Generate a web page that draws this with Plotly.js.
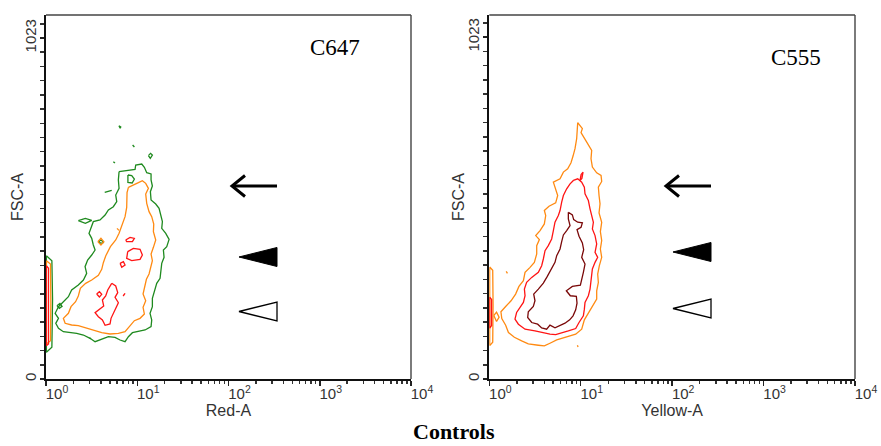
<!DOCTYPE html>
<html><head><meta charset="utf-8">
<script src="https://cdn.plot.ly/plotly-3.0.1.min.js"></script>
<style>html,body{margin:0;padding:0;background:#fff}#chart{width:881px;height:446px}</style>
</head><body><div id="chart"></div>
<script>
// ---------- C647 panel (Red-A vs FSC-A): contour outlines ----------
const c647GreenX = [6.32,7.66,9.46,9.62,11.2,11.97,12.70,14.17,14.17,14.65,13.93,14.17,15.94,17.34,18.23,18.86,18.55,20.52,22.33,21.05,19.34,19.67,18.55,18.23,17.78,16.35,15.67,14.65,14.65,13.81,14.41,14.17,12.18,10.29,8.85,8.0,7.35,6.48,5.71,4.83,4.08,3.45,3.04,2.57,2.17,1.83,1.55,1.37,1.28,1.37,1.26,1.37,1.55,1.76,1.91,2.26,2.57,2.79,2.68,2.86,3.17,3.45,3.30,3.17,2.96,3.17,3.30,3.91,4.44,4.83,5.47,5.96,5.81,6.32,6.21,6.32];
const c647GreenY = [622,625,629,642,645,635,619,615,597,579,562,537,525,512,492,472,452,437,419,397,387,365,347,322,302,287,267,242,217,197,177,157,147,142,139,127,112,117,125,127,119,112,122,132,137,139,142,152,167,182,197,217,232,247,267,282,297,317,337,357,372,387,402,422,437,457,472,477,492,507,517,532,552,572,597,622];
const c647OrangeX = [8.0,9.07,10.29,11.38,12.38,13.25,12.38,12.70,13.47,14.41,15.16,15.03,15.94,15.03,14.17,14.65,14.17,13.47,12.60,11.97,11.58,12.38,11.58,11.97,10.73,9.30,8.34,7.35,6.21,5.03,4.08,3.45,2.79,2.26,1.91,1.62,1.55,1.76,1.88,2.11,2.26,2.38,2.72,3.17,3.75,4.08,4.25,4.51,5.08,5.81,6.32,6.76,7.35,7.66,7.66,7.73,8.0];
const c647OrangeY = [575,581,589,595,587,572,555,527,502,487,465,442,417,395,375,355,335,315,299,277,255,235,215,195,182,175,159,142,137,135,139,145,152,160,162,167,182,197,217,232,249,272,287,297,311,329,349,369,397,417,437,459,487,515,539,559,575];
const c647RedAX = [7.86,9.07,10.73,11.38,10.73,8.70,7.66,7.86];
const c647RedAY = [382,392,389,372,359,355,362,382];
const c647RedBX = [7.47,8.34,9.30,8.85,7.66,7.47];
const c647RedBY = [417,425,422,412,412,417];
const c647RedCX = [6.48,7.05,7.35,6.76,6.48];
const c647RedCY = [347,352,342,335,347];
const c647RedDX = [5.25,5.81,6.11,5.71,6.21,5.81,5.47,5.16,5.03,4.44,4.15,3.75,3.45,3.81,4.29,4.15,4.51,4.75,5.25];
const c647RedDY = [287,279,259,245,229,212,197,182,165,161,177,187,199,209,219,237,249,267,287];
const c647RedEX = [3.59,3.85,4.08,3.85,3.59];
const c647RedEY = [255,262,254,246,255];
const c647RedFX = [7.0,7.35,7.2,7.0];
const c647RedFY = [249,257,252,249];
// events piled on the left edge (Red-A = 10^0)
const c647EdgeRedX = [1.008,1.065,1.065,1.008,1.008];
const c647EdgeRedY = [340,332,105,100,340];
const c647EdgeOrangeX = [1.01,1.12,1.13,1.12,1.01,1.01];
const c647EdgeOrangeY = [355,345,230,115,105,355];
const c647EdgeGreenX = [1.01,1.16,1.18,1.16,1.01,1.01];
const c647EdgeGreenY = [370,355,240,95,80,370];
// small islands
const c647GreenIslandsX = [[6.3,6.6,6.5,6.3],[8.9,9.3],[13.25,14.0,14.65,13.9,13.25],[5.47,5.7],[7.9,8.7,9.3,8.8,7.9,7.9],[4.4,5.25],[2.26,2.7,3.17,2.7,2.26],[3.75,4.0,4.3,4.0,3.75],[1.32,1.42,1.5,1.4,1.32],[3.0,3.1]];
const c647GreenIslandsY = [[760,756,752,760],[702,696],[670,677,672,662,670],[652,648],[612,610,600,588,590,612],[560,566],[475,482,476,467,475],[412,417,410,407,412],[220,227,218,212,220],[124,120]];
const c647OrangeIslandsX = [[3.7,4.0,4.3,4.0,3.7],[6.0,6.3]];
const c647OrangeIslandsY = [[412,422,412,402,412],[452,446]];

// ---------- C555 panel (Yellow-A vs FSC-A) ----------
const c555OrangeX = [9.27,10.42,10.08,11.14,12.12,13.18,12.96,13.41,14.95,16.68,16.96,15.59,15.86,16.26,15.86,16.96,16.40,16.96,16.40,16.96,15.99,15.33,15.59,14.95,14.95,13.41,12.12,10.96,10.25,8.81,7.64,6.46,5.46,4.61,4.0,3.44,2.67,2.26,1.88,1.62,1.51,1.37,1.34,1.51,1.73,1.94,2.11,2.36,2.46,2.79,3.11,3.30,3.30,3.53,3.22,3.59,4.0,4.14,4.0,4.50,5.32,5.60,5.23,5.02,5.94,6.46,7.20,7.83,8.24,8.66,9.03,9.27];
const c555OrangeY = [767,749,737,717,699,684,659,634,617,609,591,574,549,524,497,469,441,414,389,364,339,314,289,264,239,219,197,177,149,134,129,123,117,107,99,101,105,114,125,139,161,181,201,217,234,254,277,294,319,334,349,374,399,417,429,444,464,489,504,517,527,549,571,589,599,619,629,647,667,689,719,767];
const c555RedX = [8.31,9.27,10.25,10.96,11.14,12.12,12.64,13.18,13.75,13.41,14.34,14.95,14.34,15.33,14.34,13.41,13.18,12.96,12.64,12.12,11.14,10.96,10.69,9.58,8.81,7.32,6.19,5.32,4.61,3.90,3.16,2.46,2.08,1.91,1.99,2.17,2.36,2.46,2.42,2.56,2.91,3.44,3.74,3.90,4.07,4.42,4.81,5.02,5.23,5.69,5.94,6.19,6.46,7.02,7.64,8.31];
const c555RedY = [594,599,589,574,554,534,509,489,469,449,429,404,379,364,349,329,309,289,269,249,229,209,189,169,151,144,139,133,134,139,144,149,164,179,199,214,229,249,269,289,304,319,339,359,384,399,419,444,469,489,504,529,549,569,584,594];
const c555DarkX = [7.32,8.10,8.38,9.27,10.42,10.08,9.11,9.58,10.42,10.77,10.25,11.14,10.69,10.25,9.91,8.10,6.96,7.70,8.96,9.11,8.81,8.24,7.57,6.73,5.94,5.23,4.61,4.24,3.74,3.38,2.91,2.63,2.67,3.03,3.16,3.06,3.44,3.90,4.31,4.81,5.23,5.46,5.94,6.19,6.46,7.02,7.64,7.32,7.32];
const c555DarkY = [499,491,477,469,467,454,447,427,407,387,364,344,319,299,281,277,264,249,247,227,207,189,177,167,159,153,161,149,153,164,169,184,201,217,234,254,269,287,307,329,349,369,389,411,431,444,459,479,499];
const c555EdgeOrangeX = [1.01,1.09,1.10,1.09,1.01,1.01];
const c555EdgeOrangeY = [335,325,220,110,100,335];
const c555EdgeRedX = [1.01,1.06,1.06,1.01,1.01];
const c555EdgeRedY = [245,238,160,152,245];
const c555OrangeIslandsX = [[1.12,1.2,1.28,1.2,1.12],[9.2,9.35],[1.53,1.58]];
const c555OrangeIslandsY = [[190,200,185,172,190],[101,96],[322,316]];
const c555RedIslandsX = [[9.82,10.3,10.6,10.1,9.82]];
const c555RedIslandsY = [[594,600,619,612,594]];

// ---------- axis ticks / labels ----------
const xTickVals = [1,10,100,1000,10000];
const xTickText = ['10<sup>0</sup>','10<sup>1</sup>','10<sup>2</sup>','10<sup>3</sup>','10<sup>4</sup>'];
const yTickVals = [0,1023];
const yTickText = ['0','1023'];
const panelLabels = ['C647','C555'];
const xTitles = ['Red-A','Yellow-A'];
const yTitle = 'FSC-A';
const caption = 'Controls';

const GREEN = '#1f8a1f', ORANGE = '#ff8a12', RED = '#ff1414', DARK = '#7a0808';

const traces = [];
function line(x, y, color, n) {
  traces.push({type:'scatter', mode:'lines', x:x, y:y, xaxis:'x'+(n>1?n:''), yaxis:'y'+(n>1?n:''),
    line:{color:color, width:1.3}, hoverinfo:'skip', showlegend:false});
}
line(c647EdgeGreenX, c647EdgeGreenY, GREEN, 1);
line(c647GreenX, c647GreenY, GREEN, 1);
c647GreenIslandsX.forEach((x,i)=>line(x, c647GreenIslandsY[i], GREEN, 1));
line(c647EdgeOrangeX, c647EdgeOrangeY, ORANGE, 1);
line(c647OrangeX, c647OrangeY, ORANGE, 1);
c647OrangeIslandsX.forEach((x,i)=>line(x, c647OrangeIslandsY[i], ORANGE, 1));
line(c647EdgeRedX, c647EdgeRedY, RED, 1);
[[c647RedAX,c647RedAY],[c647RedBX,c647RedBY],[c647RedCX,c647RedCY],[c647RedDX,c647RedDY],[c647RedEX,c647RedEY],[c647RedFX,c647RedFY]]
  .forEach(p=>line(p[0], p[1], RED, 1));

line(c555EdgeOrangeX, c555EdgeOrangeY, ORANGE, 2);
line(c555OrangeX, c555OrangeY, ORANGE, 2);
c555OrangeIslandsX.forEach((x,i)=>line(x, c555OrangeIslandsY[i], ORANGE, 2));
line(c555EdgeRedX, c555EdgeRedY, RED, 2);
line(c555RedX, c555RedY, RED, 2);
c555RedIslandsX.forEach((x,i)=>line(x, c555RedIslandsY[i], RED, 2));
line(c555DarkX, c555DarkY, DARK, 2);

// minor tick positions of the log axis (2..9 in each decade)
const minorX = [];
for (let d = 1; d < 10000; d *= 10) for (let k = 2; k <= 9; k++) minorX.push(k*d);

const W = 881, H = 446;
const SANS = 'Liberation Sans, Arial, sans-serif';
const SERIF = 'Liberation Serif, Times New Roman, serif';
function xAxis(dom, title) {
  return {domain:dom, type:'log', range:[0,4], tickmode:'array', tickvals:xTickVals, ticktext:xTickText,
    ticks:'outside', ticklen:5, tickwidth:1.5, tickcolor:'#222', ticklabelposition:'outside right', ticklabelshift:-2,
    showline:true, linecolor:'#111', linewidth:2, mirror:false, showgrid:false, zeroline:false,
    tickfont:{family:SANS, size:15, color:'#333'},
    minor:{ticks:'outside', ticklen:2.5, tickwidth:1.5, tickcolor:'#333', tickmode:'array', tickvals:minorX, showgrid:false},
    title:{text:title, font:{family:SANS, size:16, color:'#333'}, standoff:1}, automargin:false, fixedrange:true};
}
function yAxis(dom, top, anchor) {
  return {domain:dom, range:[0, top], tickmode:'array', tickvals:yTickVals, ticktext:yTickText, tickangle:-90,
    ticks:'outside', ticklen:4, tickwidth:1.5, tickcolor:'#222', ticklabelstandoff:-2,
    showline:true, linecolor:'#111', linewidth:2, mirror:false, showgrid:false, zeroline:false,
    tickfont:{family:SANS, size:15, color:'#333'},
    minor:{ticks:'outside', ticklen:4, tickwidth:1.5, tickcolor:'#333', tick0:0, dtick:1023/24, showgrid:false},
    automargin:false, fixedrange:true, anchor:anchor};
}
const yDom = [1-379/H, 1-15/H];
const layout = {
  width:W, height:H, margin:{l:0,r:0,t:0,b:0}, paper_bgcolor:'#fff', plot_bgcolor:'#fff', showlegend:false,
  xaxis: Object.assign(xAxis([46/W, 411/W], xTitles[0]), {anchor:'y'}),
  yaxis: yAxis(yDom, 1092, 'x'),
  xaxis2: Object.assign(xAxis([489.3/W, 855/W], xTitles[1]), {anchor:'y2'}),
  yaxis2: yAxis(yDom, 1089, 'x2'),
  annotations:[
    {text:yTitle, xref:'paper', yref:'paper', x:17/W, y:1-197/H, textangle:-90, showarrow:false, xanchor:'center', yanchor:'middle', font:{family:SANS, size:16, color:'#333'}},
    {text:yTitle, xref:'paper', yref:'paper', x:458/W, y:1-197/H, textangle:-90, showarrow:false, xanchor:'center', yanchor:'middle', font:{family:SANS, size:16, color:'#333'}},
    {text:panelLabels[0], xref:'paper', yref:'paper', x:334.5/W, y:1-48/H, showarrow:false, xanchor:'center', yanchor:'middle', font:{family:SERIF, size:23, color:'#000'}},
    {text:panelLabels[1], xref:'paper', yref:'paper', x:795.5/W, y:1-57/H, showarrow:false, xanchor:'center', yanchor:'middle', font:{family:SERIF, size:23, color:'#000'}},
    {text:'<b>'+caption+'</b>', xref:'paper', yref:'paper', x:453.5/W, y:0, showarrow:false, xanchor:'center', yanchor:'bottom', font:{family:SERIF, size:22, color:'#000'}}
  ],
  shapes:[]
};
// thinner grey top / right frame edges
[[46,411],[489.3,855]].forEach(d=>{
  layout.shapes.push({type:'line', xref:'paper', yref:'paper', x0:d[0]/W, x1:d[1]/W, y0:1-15/H, y1:1-15/H, line:{color:'#444', width:1.4}});
  layout.shapes.push({type:'line', xref:'paper', yref:'paper', x0:d[1]/W, x1:d[1]/W, y0:1-15/H, y1:1-379/H, line:{color:'#444', width:1.4}});
});
// arrow markers (decorations), given in pixel positions
function P(pts, close){ return pts.map((p,i)=>(i?'L':'M')+(p[0]/W).toFixed(5)+','+(1-p[1]/H).toFixed(5)).join(' ')+(close?' Z':''); }
function marks(xTip, xBase, yArrow, yFill, yOpen){
  layout.shapes.push({type:'path', xref:'paper', yref:'paper', path:P([[xTip+2,yArrow],[xBase,yArrow]]), line:{color:'#000', width:3}});
  layout.shapes.push({type:'path', xref:'paper', yref:'paper', path:P([[xTip+13,yArrow-10.5],[xTip,yArrow],[xTip+13,yArrow+10.5]]), line:{color:'#000', width:3}});
  layout.shapes.push({type:'path', xref:'paper', yref:'paper', path:P([[xTip+7,yFill],[xBase,yFill-9.5],[xBase,yFill+9.5]],true), line:{color:'#000', width:1}, fillcolor:'#000'});
  layout.shapes.push({type:'path', xref:'paper', yref:'paper', path:P([[xTip+7,yOpen],[xBase,yOpen-9.5],[xBase,yOpen+9.5]],true), line:{color:'#000', width:1.3}, fillcolor:'#fff'});
}
marks(232, 277, 186, 257, 311.5);
marks(666, 711, 186, 252, 308.5);

Plotly.newPlot('chart', traces, layout, {staticPlot:true, displayModeBar:false});
</script>
</body></html>
